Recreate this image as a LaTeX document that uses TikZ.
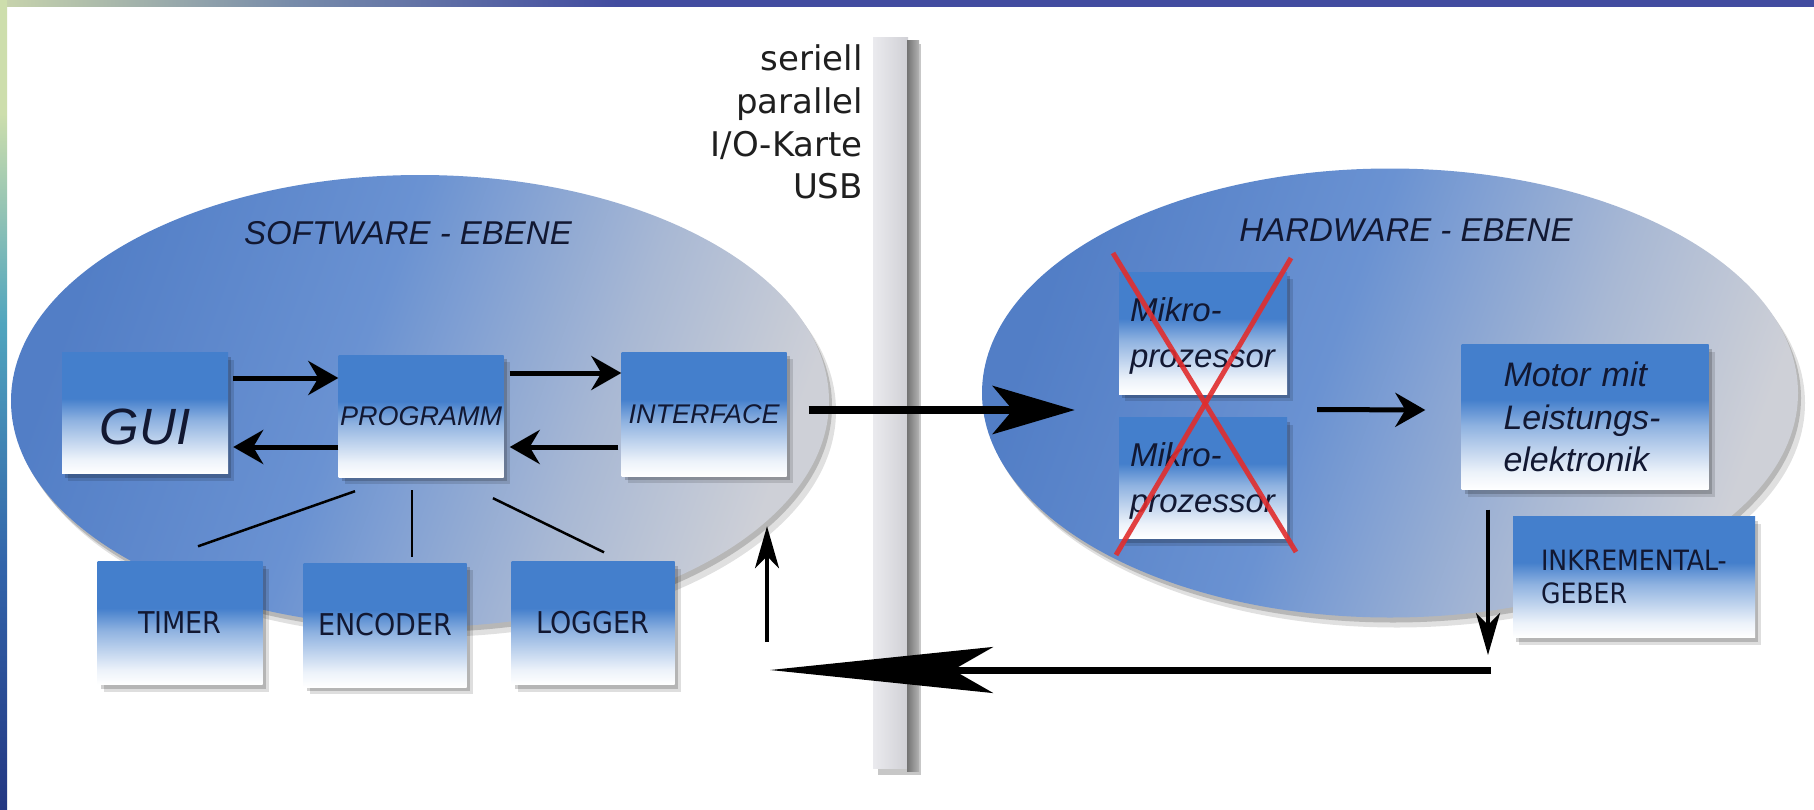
\documentclass[tikz,border=0pt]{standalone}
\usepackage{fontspec}
\setmainfont{Liberation Sans}
\newfontfamily\dvs{DejaVu Sans}
\newfontfamily\dvc{DejaVu Sans Condensed}
\usetikzlibrary{arrows.meta,shadows,shapes.geometric,calc}

\definecolor{boxblue}{RGB}{68,127,204}
\definecolor{navy}{RGB}{18,24,50}
\definecolor{ellA}{RGB}{82,126,198}
\definecolor{ellB}{RGB}{106,146,210}
\definecolor{ellC}{RGB}{168,184,212}
\definecolor{ellD}{RGB}{206,208,215}
\definecolor{barL}{RGB}{234,234,238}
\definecolor{barR}{RGB}{208,208,213}
\definecolor{xred}{RGB}{225,45,45}
\definecolor{tsA}{RGB}{200,212,172}
\definecolor{tsB}{RGB}{120,140,170}
\definecolor{tsC}{RGB}{66,76,160}
\definecolor{lsA}{RGB}{205,222,172}
\definecolor{lsB}{RGB}{80,165,190}
\definecolor{lsC}{RGB}{50,100,170}
\definecolor{lsD}{RGB}{35,55,130}

\pgfdeclareverticalshading{boxshade}{100bp}{color(0bp)=(white); color(25bp)=(white); color(31bp)=(white!90!boxblue); color(47bp)=(white!40!boxblue); color(56bp)=(boxblue); color(100bp)=(boxblue)}
\pgfdeclarehorizontalshading{ellshade}{100bp}{color(0bp)=(ellA); color(25bp)=(ellA); color(45bp)=(ellB); color(62bp)=(ellC); color(75bp)=(ellD); color(100bp)=(ellD)}
\pgfdeclarehorizontalshading{topstrip}{100bp}{color(0bp)=(tsA); color(25bp)=(tsA); color(33bp)=(tsB); color(42bp)=(tsC); color(100bp)=(tsC)}
\pgfdeclareverticalshading{leftstrip}{100bp}{color(0bp)=(lsD); color(25bp)=(lsD); color(40bp)=(lsC); color(55bp)=(lsB); color(68bp)=(lsA); color(100bp)=(lsA)}

\begin{document}
\begin{tikzpicture}[x=1pt,y=-1pt,
  box/.style={shading=boxshade, inner sep=0pt, minimum width=165pt, minimum height=122pt, text=navy,
    general shadow={shadow xshift=3pt, shadow yshift=-4pt, fill=black, opacity=0.18},
    general shadow={shadow xshift=6pt, shadow yshift=-7pt, fill=black, opacity=0.13}},
  ell/.style={ellipse, inner sep=0pt, shading=ellshade, shading angle=-20,
    general shadow={shadow xshift=3pt, shadow yshift=-5pt, fill=black, opacity=0.18},
    general shadow={shadow xshift=7pt, shadow yshift=-10pt, fill=black, opacity=0.12}},
  arr/.style={-{Stealth[length=30pt,width=34pt,inset=10pt]}, line width=5pt},
  thinarr/.style={-{Stealth[length=42pt,width=24pt,inset=12pt]}, line width=3.5pt},
  bigarr/.style={-{Stealth[length=82pt,width=48pt,inset=20pt]}, line width=8pt},
  longarr/.style={-{Stealth[length=223pt,width=46pt,inset=40pt]}, line width=7pt},
  link/.style={line width=2.5pt},
  itl/.style={font=\itshape\fontsize{#1}{#1}\selectfont},
  cond/.style={font=\dvc\fontsize{#1}{#1}\selectfont},
  sidetext/.style={anchor=base east, inner sep=0pt, text=black!88, font=\dvs\fontsize{34}{40}\selectfont}]

\useasboundingbox (0,0) rectangle (1814,809);
\fill[white] (0,0) rectangle (1814,809);
\fill[shading=topstrip] (0,0) rectangle (1814,6);
\fill[shading=leftstrip] (0,0) rectangle (7,809);

% ellipses
\node[ell, minimum width=818pt, minimum height=452pt] (sw) at (420,401) {};
\node[ell, minimum width=816pt, minimum height=449pt] (hw) at (1390,393) {};
\node[itl=33, text=navy] (swl) at (408,233) {SOFTWARE - EBENE};
\node[itl=33, text=navy] (hwl) at (1406,230) {HARDWARE - EBENE};

% separator bar
\fill[black, opacity=0.22] (878,44) rectangle (921,775);
\shade[left color=barL, right color=barR] (873,37) rectangle (908,768);
\shade[left color=black!55, right color=black!30] (907,40) rectangle (919,771);

\node[sidetext] (t1) at (863,70) {seriell};
\node[sidetext] (t2) at (863,113) {parallel};
\node[sidetext] (t3) at (863,156) {I/O-Karte};
\node[sidetext] (t4) at (863,198) {USB};

% software boxes
\node[box, minimum width=166pt, minimum height=121pt, itl=51, text height=64pt] (gui) at (145,413) {GUI};
\node[box, itl=27] (prog) at (421,416) {PROGRAMM};
\node[box, minimum height=124pt, itl=27] (int) at (704,414) {INTERFACE};
\node[box, minimum height=123pt, cond=30] (timer) at (180,623) {TIMER};
\node[box, minimum width=163pt, minimum height=124pt, cond=30] (enc) at (385,625) {ENCODER};
\node[box, minimum width=163pt, minimum height=123pt, cond=30] (log) at (593,623) {LOGGER};

% hardware boxes
\node[box, minimum width=168pt, minimum height=122pt, inner xsep=11pt, text width=146pt, align=left,
      font=\itshape\fontsize{33}{46}\selectfont] (m1) at (1203,333) {\rule{0pt}{30pt}Mikro-\\prozessor};
\node[box, minimum width=168pt, minimum height=121pt, inner xsep=11pt, text width=146pt, align=left,
      font=\itshape\fontsize{33}{46}\selectfont] (m2) at (1203,478) {\rule{0pt}{30pt}Mikro-\\prozessor};
\node[box, minimum width=247pt, minimum height=145pt, inner xsep=42pt, text width=163pt, align=left,
      font=\itshape\fontsize{34}{42.5}\selectfont] (motor) at (1585,417) {Motor mit\\Leistungs-\\elektronik};
\node[box, minimum width=242pt, minimum height=121pt, inner xsep=28pt, text width=186pt, align=left,
      font=\dvc\fontsize{28}{33}\selectfont] (inkr) at (1634,577) {INKREMENTAL-\\GEBER};

% red cross
\coordinate (xa) at (1113,253);
\coordinate (xb) at (1296,552);
\coordinate (xc) at (1291,258);
\coordinate (xd) at (1116,555);
\draw[xred, line width=5pt, opacity=0.9] (xa) -- (xb);
\draw[xred, line width=5pt, opacity=0.9] (xc) -- (xd);

% software arrows
\draw[arr] ([xshift=5pt,yshift=35pt]gui.east) -- ([yshift=38pt]prog.west);
\draw[arr] ([yshift=-31pt]prog.west) -- ([xshift=5pt,yshift=-34pt]gui.east);
\draw[arr] ([xshift=6pt,yshift=43pt]prog.east) -- ([yshift=41pt]int.west);
\draw[arr] ([xshift=-3pt,yshift=-33pt]int.west) -- ([xshift=6pt,yshift=-31pt]prog.east);

\draw[link] ([xshift=-66pt,yshift=-14pt]prog.south) -- ([xshift=18pt,yshift=15pt]timer.north);
\draw[link] ([xshift=-9pt,yshift=-13pt]prog.south) -- ([xshift=27pt,yshift=6pt]enc.north);
\draw[link] ([xshift=72pt,yshift=-21pt]prog.south) -- ([xshift=11pt,yshift=9pt]log.north);

% interface to hardware
\draw[bigarr] ([xshift=22pt,yshift=4pt]int.east) -- ([xshift=93pt,yshift=-17pt]hw.west);
\coordinate (mmid) at ($(m1.east)!0.5!(m2.east)$);
\draw[arr] ([xshift=30pt,yshift=-4pt]mmid) -- ([xshift=-36pt,yshift=7pt]motor.west);

% feedback
\coordinate (corner) at (1491,670);
\coordinate (swret) at (770,670);
\draw[thinarr] ([xshift=-97pt,yshift=-20pt]motor.south) -- ([xshift=-3pt,yshift=15pt]corner);
\draw[longarr] (corner) -- (swret);
\draw[thinarr] ([xshift=-3pt,yshift=28pt]swret) -- ([xshift=63pt,yshift=-50pt]int.south);
\end{tikzpicture}
\end{document}
